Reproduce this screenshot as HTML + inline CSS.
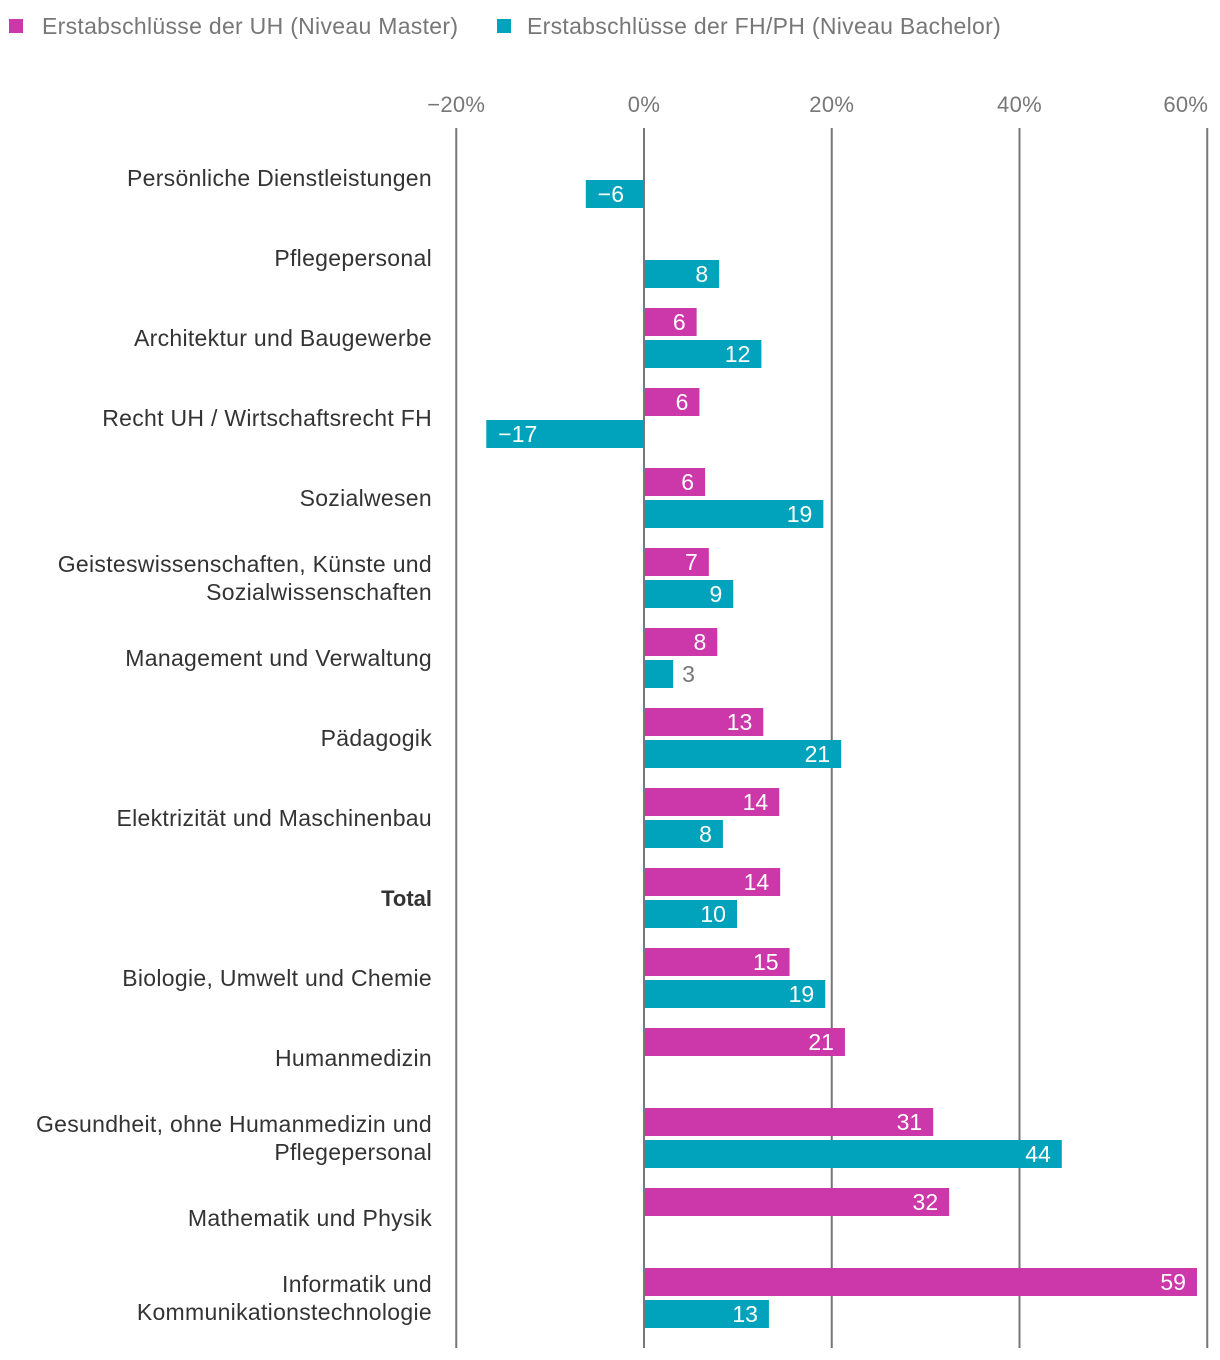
<!DOCTYPE html>
<html><head><meta charset="utf-8">
<style>
html,body{margin:0;padding:0;background:#fff;}
svg{display:block;font-family:"Liberation Sans",Arial,sans-serif;}
</style></head>
<body>
<svg id="chart" width="1220" height="1360">
  <g>
    <rect x="9" y="19" width="14" height="14" fill="#cc37a9"></rect>
    <text x="42" y="34" font-size="23" letter-spacing="0.3" fill="#777">Erstabschlüsse der UH (Niveau Master)</text>
    <rect x="497" y="19" width="14" height="14" fill="#00a3bb"></rect>
    <text x="527" y="34" font-size="23" letter-spacing="0.3" fill="#777">Erstabschlüsse der FH/PH (Niveau Bachelor)</text>
  </g>
  <g id="grid"></g>
  <g id="bars"></g>
  <g id="labels"></g>
</svg>
<script>
const categories = ["Persönliche Dienstleistungen","Pflegepersonal","Architektur und Baugewerbe","Recht UH / Wirtschaftsrecht FH","Sozialwesen","Geisteswissenschaften, Künste und|Sozialwissenschaften","Management und Verwaltung","Pädagogik","Elektrizität und Maschinenbau","Total","Biologie, Umwelt und Chemie","Humanmedizin","Gesundheit, ohne Humanmedizin und|Pflegepersonal","Mathematik und Physik","Informatik und|Kommunikationstechnologie"];
const uhValues = [null,null,5.5,5.8,6.4,6.8,7.7,12.6,14.3,14.4,15.4,21.3,30.7,32.4,58.8];
const fhValues = [-6.2,7.9,12.4,-16.8,19.0,9.4,3.0,20.9,8.3,9.8,19.2,null,44.4,null,13.2];
const ticks = [-20,0,20,40,60];
const tickLabels = ["−20%","0%","20%","40%","60%"];

const NS="http://www.w3.org/2000/svg";
const x0=644, pxPer=(1207-456)/80;
function xs(v){return x0+v*pxPer;}
function rowTop(i){return 148+80*i;}
function mk(tag,attrs,parent){const e=document.createElementNS(NS,tag);for(const k in attrs)e.setAttribute(k,attrs[k]);parent.appendChild(e);return e;}
const grid=document.getElementById('grid'),bars=document.getElementById('bars'),labels=document.getElementById('labels');

ticks.forEach((t,i)=>{
  const l=mk('line',{x1:xs(t),x2:xs(t),y1:128,y2:1348,stroke:'#777','stroke-width':2},grid);
  
  
  const tx=mk('text',{x:xs(t),y:112,'font-size':22,'letter-spacing':0.3,fill:'#777','text-anchor':i===ticks.length-1?'end':'middle'},grid);
  if(i===ticks.length-1) tx.setAttribute('x',xs(t)+1);
  tx.textContent=tickLabels[i];
  
  
});

function drawBar(v,y,color,name){
  if(v===null)return;
  const a=Math.min(xs(0),xs(v)),w=Math.abs(xs(v)-xs(0));
  const r=mk('rect',{x:v<0?a:a+1,y:y,width:w,height:28,fill:color},bars);
  
  
  const t=mk('text',{y:y+22,'font-size':23},bars);
  const s=Math.round(v)<0?'−'+Math.abs(Math.round(v)):String(Math.round(v));
  t.textContent=s;
  if(w<40){t.setAttribute('x',xs(v)+10);t.setAttribute('fill','#777');t.setAttribute('text-anchor','start');}
  else if(v<0){t.setAttribute('x',a+12);t.setAttribute('fill','#fff');t.setAttribute('text-anchor','start');}
  else{t.setAttribute('x',xs(v)-10);t.setAttribute('fill','#fff');t.setAttribute('text-anchor','end');}
  
  
}

categories.forEach((c,i)=>{
  const top=rowTop(i);
  drawBar(uhValues[i],top,'#cc37a9','bar-uh');
  drawBar(fhValues[i],top+32,'#00a3bb','bar-fh');
  const parts=c.split('|');
  const cy=top+30;
  parts.forEach((p,j)=>{
    const y=parts.length===1?cy+8:cy-6+28*j;
    const t=mk('text',{x:432,y:y,'font-size':23,'letter-spacing':0.3,fill:'#333','text-anchor':'end'},labels);
    if(c==='Total'){t.setAttribute('font-weight','bold');t.setAttribute('letter-spacing','0');t.setAttribute('font-size','22');}
    t.textContent=p;
    
    
  });
});
</script>
</body></html>
